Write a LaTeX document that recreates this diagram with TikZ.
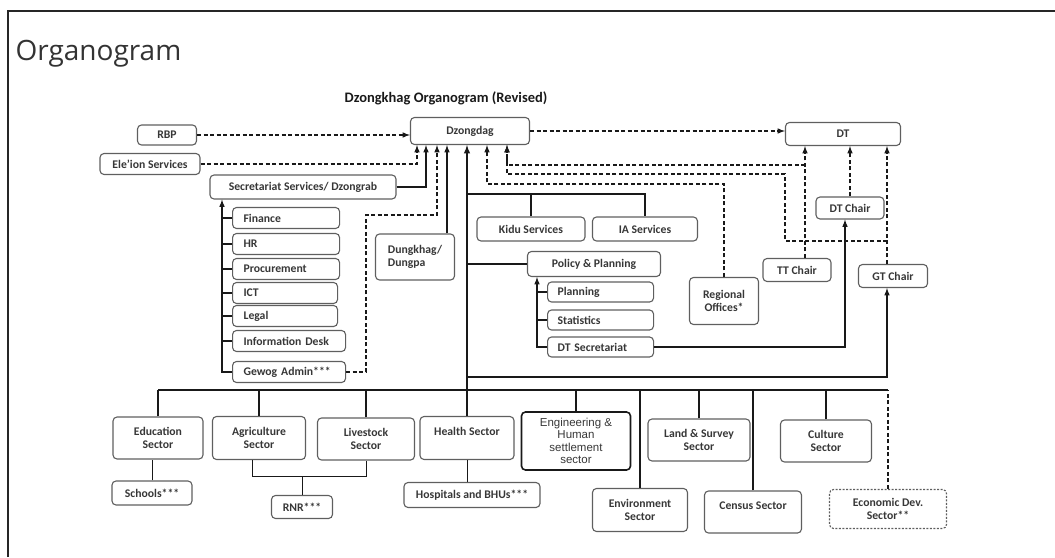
\documentclass[tikz,border=0pt]{standalone}
\usepackage{fontspec}
\setmainfont{Carlito}
\newfontfamily\headfont{Open Sans}
\newfontfamily\arialfont{Liberation Sans}
\usepackage{xcolor}
\usepackage{tikz}
\definecolor{boxline}{RGB}{95,95,95}
\definecolor{boxtext}{RGB}{55,55,55}
\definecolor{headgray}{RGB}{51,51,51}
\definecolor{wire}{RGB}{25,25,25}
\tikzset{
  unit/.style={draw=boxline, line width=1.1pt, rounded corners=4pt, inner sep=0pt,
    text=boxtext, align=center, font=\fontsize{11.7}{13.5}\selectfont\bfseries},
  sz/.style 2 args={minimum width=#1, minimum height=#2},
  leftunit/.style={align=left, text width=#1},
  link/.style={draw=wire, line width=1.5pt},
  dlink/.style={draw=wire, line width=1.5pt, dash pattern=on 4pt off 2.5pt},
}

\begin{document}
\begin{tikzpicture}[x=1pt, y=-1pt, >=latex]
  \useasboundingbox (0,0) rectangle (1055,557);
  % --- page frame and headings --------------------------------------------
  \draw[line width=2.5pt, black!85] (8,557) -- (8,11) -- (1055,11);
  \node[anchor=base west, text=headgray, font=\headfont\fontsize{28}{30}\selectfont] (pagetitle) at (12,60) {Organogram};
  \node[text=black!90, font=\fontsize{14.5}{16}\selectfont\bfseries] (charttitle) at (446,98) {Dzongkhag Organogram (Revised)};

  % --- top level -----------------------------------------------------------
  \node[unit, sz={119}{27}] (dzongdag) at (470,131) {Dzongdag};
  \node[unit, sz={115}{23}] (dt) at (843,134) {DT};
  \node[unit, sz={59}{20}] (rbp) at (167,135) {RBP};
  \node[unit, sz={100}{21}] (elec) at (150,164) {Ele'ion Services};
  \node[unit, sz={186}{24}] (secr) at (303,187) {Secretariat Services/ Dzongrab};

  % secretariat units, left edges and texts aligned
  \foreach \n/\y/\w/\t in {finance/218/107/Finance, hr/244/107/HR, procure/269/107/Procurement,
                           ict/293/105/ICT, legal/316/105/Legal,
                           infodesk/341/113/Information Desk, gewog/372/113/Gewog Admin***} {
    \pgfmathsetmacro{\tw}{\w-22}
    \node[unit, sz={\w}{21}, leftunit=\tw pt, anchor=west] (\n) at (232,\y) {\t};
  }
  \node[unit, sz={79}{46}, align=left] (dungkhag) at (415,257) {Dungkhag/\\Dungpa};

  % --- middle: services, planning, chairs --------------------------------
  \node[unit, sz={108}{24}] (kidu) at (531,229) {Kidu Services};
  \node[unit, sz={105}{24}] (ia) at (645,229) {IA Services};
  \node[unit, sz={133}{25}] (policy) at (594,264) {Policy \& Planning};
  \foreach \n/\y/\t in {planning/292/Planning, statistics/320/Statistics, dtsec/347/DT Secretariat} {
    \node[unit, sz={106}{20}, leftunit=86pt, anchor=west] (\n) at (547,\y) {\t};
  }
  \node[unit, sz={69}{47}] (regional) at (724,301) {Regional\\Offices*};
  \node[unit, sz={68}{22}] (dtchair) at (850,208) {DT Chair};
  \node[unit, sz={68}{23}] (ttchair) at (797,270) {TT Chair};
  \node[unit, sz={69}{23}] (gtchair) at (893,276) {GT Chair};

  % --- sectors ---------------------------------------------------------------
  \node[unit, sz={90}{42}] (edu) at (158,438) {Education\\Sector};
  \node[unit, sz={93}{43}] (agri) at (259,438) {Agriculture\\Sector};
  \node[unit, sz={97}{42}] (live) at (366,439) {Livestock\\Sector};
  \node[unit, sz={94}{43}] (health) at (467,438) {Health Sector\\\mbox{}};
  \node[unit, sz={109}{58}, draw=wire, line width=1.6pt, font=\arialfont\fontsize{11.5}{12.5}\selectfont]
    (engin) at (576,441) {Engineering \&\\Human\\settlement\\sector};
  \node[unit, sz={95}{43}] (envir) at (640,510) {Environment\\Sector};
  \node[unit, sz={102}{42}] (land) at (699,440) {Land \& Survey\\Sector};
  \node[unit, sz={97}{42}] (census) at (753,512) {Census Sector\\\mbox{}};
  \node[unit, sz={91}{42}] (culture) at (826,441) {Culture\\Sector};
  \node[unit, sz={117}{39}, dash pattern=on 2pt off 1.5pt] (econ) at (888,509) {Economic Dev.\\Sector**};
  \node[unit, sz={80}{24}] (schools) at (152,493) {Schools***};
  \node[unit, sz={61}{23}] (rnr) at (302,507) {RNR***};
  \node[unit, sz={136}{25}] (hosp) at (472,495) {Hospitals and BHUs***};

  % --- arrow feet under Dzongdag ------------------------------------------
  \foreach \n/\dx in {a/-53, b/-44, c/-33, d/-23, e/-3, f/17, g/37} {
    \coordinate (dz\n) at ([xshift=\dx pt]dzongdag.south);
  }
  \coordinate (gw) at (366,215);
  \coordinate (kb) at (467,194);
  \coordinate (hub) at (467,390);
  \coordinate (gtline) at (467,377);
  \coordinate (tt) at ([xshift=8pt]ttchair.north);
  \coordinate (gt) at ([xshift=-6pt]gtchair.north);
  \coordinate (gtb) at ([xshift=-6pt]gtchair.south);
  \coordinate (ttj) at (805,165);
  \coordinate (gtj) at (887,241);
  \coordinate (gtk) at (785,174);

  % --- dashed reporting lines ---------------------------------------------
  \draw[dlink,->] (rbp.east) -- (rbp.east -| dzongdag.west);
  \draw[dlink,->] (elec.east) -| (dza);
  \draw[dlink,->] (gewog.east) -| (gw) -| (dzc);
  \draw[dlink,->] (dzongdag.east) -- (dzongdag.east -| dt.west);
  \draw[dlink,->] (regional.north) |- (dzf |- 0,184) -- (dzf);
  \draw[dlink,->] (tt) -- (tt |- dt.south);
  \draw[dlink,->] (ttj) -| (dzg);
  \draw[dlink,->] (gtj) -| (gtk) -| (dzg);
  \draw[dlink,->] (gt) -- (gt |- dt.south);
  \draw[dlink,->] (dtchair.north) -- (dtchair.north |- dt.south);

  % --- solid lines -----------------------------------------------------------
  \draw[link,->] (secr.east) -| (dzb);
  \draw[link,->] (dungkhag.north -| dzd) -- (dzd);
  \draw[link,->, line width=1.8pt] (health.north) -- (dze);
  \draw[link] (kb) -| (ia.north);
  \draw[link] (kidu.north) -- (kidu.north |- kb);
  \draw[link] (policy.west) -- (policy.west -| kb);
  \draw[link,->] (gewog.west) -- ++(-10,0) coordinate (sv) -- (sv |- secr.south);
  \foreach \u in {finance,hr,procure,ict,legal,infodesk} {
    \draw[link] (\u.west) -- (\u.west -| sv);
  }
  \draw[link,->] (dtsec.west) -- ++(-10,0) coordinate (pv) -- (pv |- policy.south);
  \foreach \u in {planning,statistics} {
    \draw[link] (\u.west) -- (\u.west -| pv);
  }
  \draw[link,->] (dtsec.east) -| ([xshift=-5pt]dtchair.south);
  \draw[link,->] (gtline) -| (gtb);

  % --- sector bus -----------------------------------------------------------
  \draw[link] (edu.north |- hub) -- (econ.north |- hub);
  \foreach \s in {edu,agri,live,engin,envir,land,census,culture} {
    \draw[link] (\s.north) -- (\s.north |- hub);
  }
  \draw[dlink] (econ.north) -- (econ.north |- hub);
  \draw[link, line width=1pt] (schools.north) -- (schools.north |- edu.south);
  \draw[link, line width=1pt] ([xshift=-7pt]agri.south) -- ++(0,16) coordinate (rnrj) -| (live.south);
  \draw[link, line width=1pt] (rnr.north) -- (rnr.north |- rnrj);
  \draw[link, line width=1pt] (health.south) -- (health.south |- hosp.north);
\end{tikzpicture}
\end{document}
